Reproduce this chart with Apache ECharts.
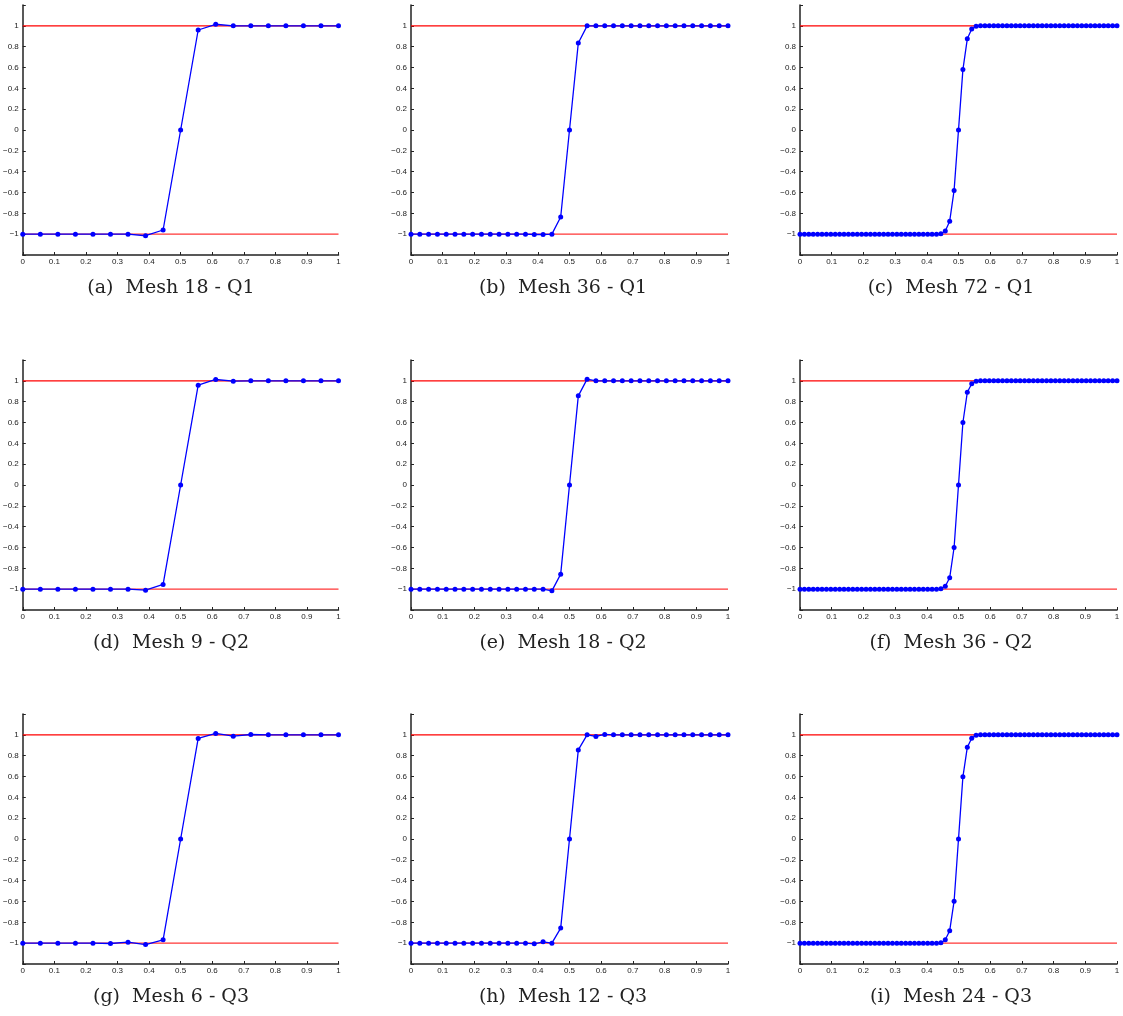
<!DOCTYPE html>
<html>
<head>
<meta charset="utf-8">
<script src="https://cdn.jsdelivr.net/npm/echarts@6/dist/echarts.min.js"></script>
<style>
html,body{margin:0;padding:0;background:#fff;}
#chart{width:1123px;height:1016px;}
</style>
</head>
<body>
<div id="chart"></div>
<script>
// ---- Data ----
const captions = [
  '(a)  Mesh 18 - Q1', '(b)  Mesh 36 - Q1', '(c)  Mesh 72 - Q1',
  '(d)  Mesh 9 - Q2',  '(e)  Mesh 18 - Q2', '(f)  Mesh 36 - Q2',
  '(g)  Mesh 6 - Q3',  '(h)  Mesh 12 - Q3', '(i)  Mesh 24 - Q3'
];
const xTicks = [0, 0.1, 0.2, 0.3, 0.4, 0.5, 0.6, 0.7, 0.8, 0.9, 1];
const yTicks = [-1, -0.8, -0.6, -0.4, -0.2, 0, 0.2, 0.4, 0.6, 0.8, 1];
const refX = [0, 1];
const refUpper = [1, 1];
const refLower = [-1, -1];

const uA = [-1,-1,-1,-1,-1,-1,-1,-1.015,-0.96,0,0.96,1.015,1,1,1,1,1,1,1];
const uB = [-1,-1,-1,-1,-1,-1,-1,-1,-1,-1,-1,-1,-1,-1,-1.003,-1.003,-1,-0.835,0,0.835,1,1,1,1,1,1,1,1,1,1,1,1,1,1,1,1,1];
const uC = [-1,-1,-1,-1,-1,-1,-1,-1,-1,-1,-1,-1,-1,-1,-1,-1,-1,-1,-1,-1,-1,-1,-1,-1,-1,-1,-1,-1,-1,-1,-1,-1,
            -0.995,-0.97,-0.875,-0.58,0,0.58,0.875,0.97,0.995,
            1,1,1,1,1,1,1,1,1,1,1,1,1,1,1,1,1,1,1,1,1,1,1,1,1,1,1,1,1,1,1,1];
const uD = [-1,-1,-1,-1,-1,-1,-1,-1.01,-0.955,0,0.958,1.013,0.997,1,1,1,1,1,1];
const uE = [-1,-1,-1,-1,-1,-1,-1,-1,-1,-1,-1,-1,-1,-1,-1,-1,-1.016,-0.856,0,0.856,1.016,1,1,1,1,1,1,1,1,1,1,1,1,1,1,1,1];
const uF = [-1,-1,-1,-1,-1,-1,-1,-1,-1,-1,-1,-1,-1,-1,-1,-1,-1,-1,-1,-1,-1,-1,-1,-1,-1,-1,-1,-1,-1,-1,-1,-1,
            -0.995,-0.972,-0.89,-0.6,0,0.6,0.89,0.972,0.995,
            1,1,1,1,1,1,1,1,1,1,1,1,1,1,1,1,1,1,1,1,1,1,1,1,1,1,1,1,1,1,1,1];
const uG = [-1,-1,-1,-1,-1,-1.003,-0.99,-1.013,-0.968,0,0.965,1.013,0.987,1.003,1,1,1,1,1];
const uH = [-1,-1,-1,-1,-1,-1,-1,-1,-1,-1,-1,-1,-1,-1,-1.006,-0.987,-1,-0.855,0,0.855,1,0.985,1.004,1,1,1,1,1,1,1,1,1,1,1,1,1,1];
const uI = [-1,-1,-1,-1,-1,-1,-1,-1,-1,-1,-1,-1,-1,-1,-1,-1,-1,-1,-1,-1,-1,-1,-1,-1,-1,-1,-1,-1,-1,-1,-1,-1,
            -0.997,-0.968,-0.88,-0.597,0,0.597,0.88,0.968,0.997,
            1,1,1,1,1,1,1,1,1,1,1,1,1,1,1,1,1,1,1,1,1,1,1,1,1,1,1,1,1,1,1,1];
const solutions = [uA, uB, uC, uD, uE, uF, uG, uH, uI];

// ---- Layout ----
const colLeft = [21.5, 411, 800];
const colCaption = [171, 563, 951];
const rowTop = [5, 360, 714];
const rowCaption = [288, 643, 997];
const plotW = 317, plotH = 250;

function fmtTick(v) {
  const r = Math.round(v * 10) / 10;
  if (Math.abs(r) > 1.05) return '';
  let s = (Math.abs(r) % 1 === 0) ? String(Math.abs(r)) : Math.abs(r).toFixed(1);
  return (r < 0 ? '\u2212' : '') + s;
}

const grids = [], xAxes = [], yAxes = [], series = [], graphics = [];
const axisColor = '#222';
const labelStyle = { fontFamily: 'Liberation Sans, Arial, sans-serif', fontSize: 8, color: '#222' };

solutions.forEach((ys, k) => {
  const r = Math.floor(k / 3), c = k % 3;
  grids.push({ left: colLeft[c], top: rowTop[r], width: plotW, height: plotH, containLabel: false });
  xAxes.push({
    type: 'value', gridIndex: k, min: xTicks[0], max: xTicks[xTicks.length - 1], interval: 0.1,
    axisLine: { show: true, onZero: false, lineStyle: { color: axisColor, width: 1.5 } },
    axisTick: { show: true, inside: true, length: 3, lineStyle: { color: axisColor, width: 1 } },
    axisLabel: Object.assign({ margin: 3, formatter: fmtTick }, labelStyle),
    splitLine: { show: false }
  });
  yAxes.push({
    type: 'value', gridIndex: k, min: -1.2, max: 1.2, interval: 0.2,
    axisLine: { show: true, onZero: false, lineStyle: { color: axisColor, width: 1.5 } },
    axisTick: { show: true, inside: true, length: 3, lineStyle: { color: axisColor, width: 1 } },
    axisLabel: Object.assign({ margin: 4, formatter: fmtTick }, labelStyle),
    splitLine: { show: false }
  });
  series.push({
    type: 'line', xAxisIndex: k, yAxisIndex: k, z: 2, silent: true,
    data: refX.map((x, i) => [x, refUpper[i]]), symbol: 'none',
    lineStyle: { color: '#ff0000', width: 1.2 }
  });
  series.push({
    type: 'line', xAxisIndex: k, yAxisIndex: k, z: 2, silent: true,
    data: refX.map((x, i) => [x, refLower[i]]), symbol: 'none',
    lineStyle: { color: '#ff2020', width: 1.2, opacity: 0.9 }
  });
  const n = ys.length - 1;
  series.push({
    type: 'line', xAxisIndex: k, yAxisIndex: k, z: 3, silent: true,
    data: ys.map((y, i) => [i / n, y]),
    symbol: 'circle', symbolSize: 5, showAllSymbol: true,
    itemStyle: { color: '#0000ff' },
    lineStyle: { color: '#0000ff', width: 1.3 }
  });
  graphics.push({
    type: 'text', x: colCaption[c], y: rowCaption[r],
    style: { text: captions[k], textAlign: 'center', textVerticalAlign: 'middle',
             font: '19px "DejaVu Serif", serif', fill: '#222' }
  });
});

const chart = echarts.init(document.getElementById('chart'), null, { renderer: 'canvas' });
chart.setOption({
  animation: false,
  backgroundColor: '#fff',
  grid: grids, xAxis: xAxes, yAxis: yAxes, series: series, graphic: graphics
});
</script>
</body>
</html>
